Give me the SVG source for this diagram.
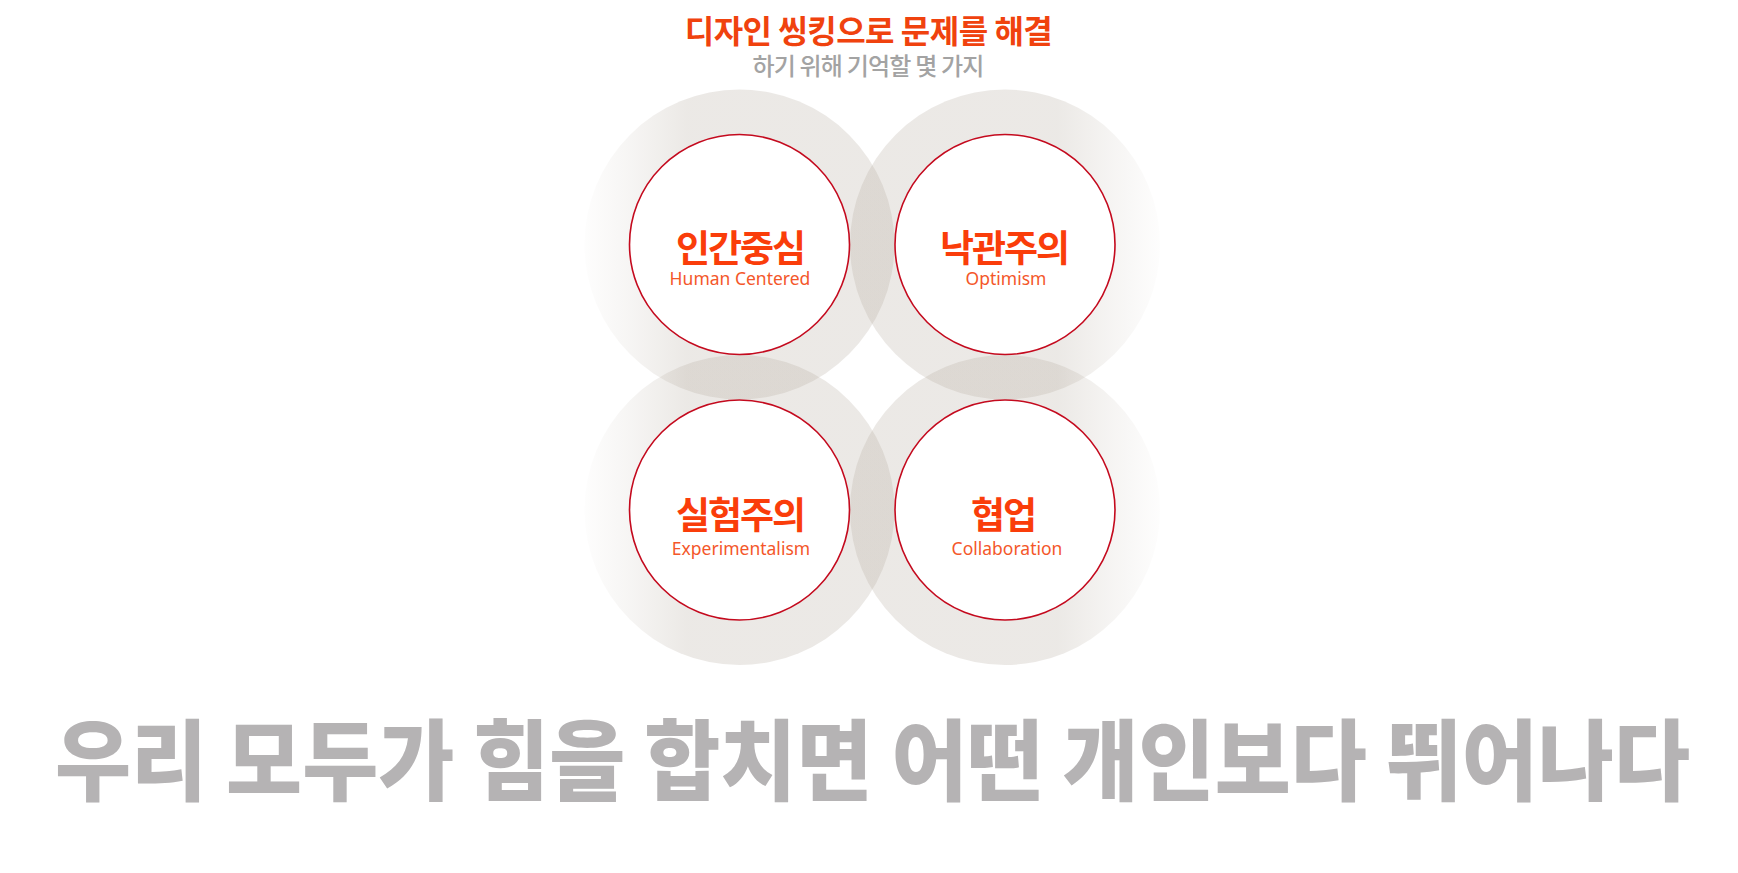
<svg xmlns="http://www.w3.org/2000/svg" width="1738" height="873" viewBox="0 0 1738 873">
  <defs>
    <linearGradient id="gLeftFade" x1="0" y1="0" x2="1" y2="0">
      <stop offset="0" stop-color="#b4aa9e" stop-opacity="0.02"/>
      <stop offset="0.15" stop-color="#b4aa9e" stop-opacity="0.12"/>
      <stop offset="0.33" stop-color="#b4aa9e" stop-opacity="0.26"/>
      <stop offset="1" stop-color="#b4aa9e" stop-opacity="0.26"/>
    </linearGradient>
    <linearGradient id="gRightFade" x1="1" y1="0" x2="0" y2="0">
      <stop offset="0" stop-color="#b4aa9e" stop-opacity="0.02"/>
      <stop offset="0.15" stop-color="#b4aa9e" stop-opacity="0.12"/>
      <stop offset="0.33" stop-color="#b4aa9e" stop-opacity="0.26"/>
      <stop offset="1" stop-color="#b4aa9e" stop-opacity="0.26"/>
    </linearGradient>
    <style>
      .ring { fill: #ffffff; stroke: #c40a1e; stroke-width: 1.6; }
      .ko { font-family: "Noto Sans CJK KR", sans-serif; font-weight: 700; font-size: 37px; fill: #fa3d0a; text-anchor: middle; letter-spacing: -2px; }
      .en { font-family: "Noto Sans", "Noto Sans CJK KR", sans-serif; font-weight: 400; font-size: 17.5px; fill: #f4572a; text-anchor: middle; }
      .title { font-family: "Noto Sans CJK KR", sans-serif; font-weight: 700; font-size: 32px; fill: #f0420e; text-anchor: middle; letter-spacing: -0.5px; }
      .sub { font-family: "Noto Sans CJK KR", sans-serif; font-weight: 500; font-size: 24px; fill: #a3a3a3; text-anchor: middle; letter-spacing: -0.8px; }
      .big { font-family: "Noto Sans CJK KR", sans-serif; font-weight: 900; font-size: 88px; fill: #b5b3b4; }
    </style>
  </defs>
  <rect width="1738" height="873" fill="#ffffff"/>

  <g id="header">
    <text class="title" x="868.5" y="43">디자인 씽킹으로 문제를 해결</text>
    <text class="sub" x="868" y="75">하기 위해 기억할 몇 가지</text>
  </g>

  <g id="glows">
    <circle cx="739.5" cy="244.5" r="155" fill="url(#gLeftFade)"/>
    <circle cx="1005" cy="244.5" r="155" fill="url(#gRightFade)"/>
    <circle cx="739.5" cy="510" r="155" fill="url(#gLeftFade)"/>
    <circle cx="1005" cy="510" r="155" fill="url(#gRightFade)"/>
  </g>

  <g id="connectors"></g>

  <g id="node-human-centered">
    <circle class="ring" cx="739.5" cy="244.5" r="110"/>
    <text class="ko" x="740" y="262">인간중심</text>
    <text class="en" x="740" y="285">Human Centered</text>
  </g>

  <g id="node-optimism">
    <circle class="ring" cx="1005" cy="244.5" r="110"/>
    <text class="ko" x="1004" y="262">낙관주의</text>
    <text class="en" x="1006" y="285">Optimism</text>
  </g>

  <g id="node-experimentalism">
    <circle class="ring" cx="739.5" cy="510" r="110"/>
    <text class="ko" x="740" y="529">실험주의</text>
    <text class="en" x="741" y="555">Experimentalism</text>
  </g>

  <g id="node-collaboration">
    <circle class="ring" cx="1005" cy="510" r="110"/>
    <text class="ko" x="1003" y="529">협업</text>
    <text class="en" x="1007" y="555">Collaboration</text>
  </g>

  <g id="slogan">
    <text class="big" x="55" y="793" textLength="1635" lengthAdjust="spacingAndGlyphs">우리 모두가 힘을 합치면 어떤 개인보다 뛰어나다</text>
  </g>
</svg>
